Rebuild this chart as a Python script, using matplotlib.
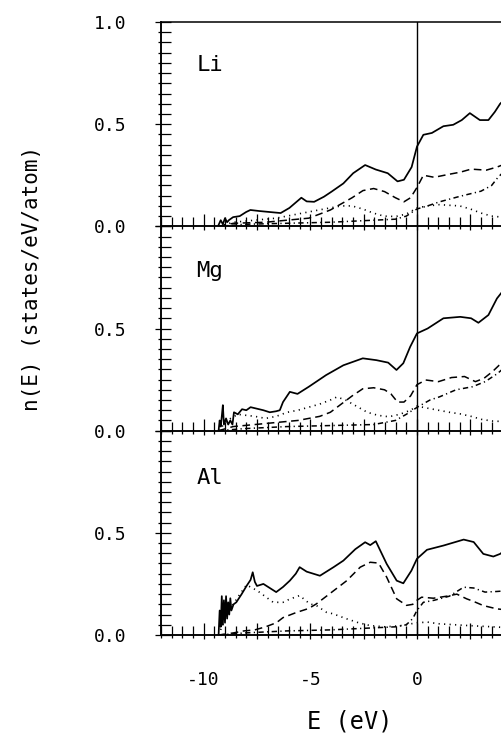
import matplotlib
matplotlib.use('Agg')
import matplotlib.pyplot as plt
from matplotlib.ticker import MultipleLocator, FuncFormatter

plt.rcParams['axes.unicode_minus'] = False
plt.rcParams['font.family'] = ['DejaVu Sans Mono', 'DejaVu Sans']

# ---------------- data (E in eV, n(E) in states/eV/atom) ----------------
panel_names = ["Li", "Mg", "Al"]
x_tick_labels = ["-10", "-5", "0"]

# Li
li_tot_e = [-9.33,-9.2,-9.1,-9.0,-8.9,-8.82,-8.62,-8.31,-8.01,-7.81,-7.4,-6.9,-6.39,-5.98,-5.42,-5.17,-4.82,-4.36,-4.0,-3.45,-2.99,-2.43,-1.93,-1.37,-0.91,-0.61,-0.25,0.0,0.3,0.7,1.24,1.7,2.1,2.48,2.95,3.35,3.65,3.9,4.0]
li_tot = [0,0.03,0.01,0.04,0.02,0.03,0.045,0.05,0.07,0.08,0.075,0.07,0.065,0.09,0.14,0.122,0.12,0.145,0.17,0.21,0.26,0.30,0.278,0.26,0.22,0.228,0.29,0.39,0.448,0.457,0.49,0.497,0.52,0.554,0.52,0.52,0.56,0.6,0.61]
li_s_e = [-9.3,-8.6,-7.6,-6.6,-5.6,-4.6,-3.55,-3.05,-2.55,-2.05,-1.55,-1.0,-0.5,0.0,0.5,1.05,2.0,2.5,3.0,3.5,4.0]
li_s = [0,0.02,0.03,0.04,0.06,0.08,0.1,0.1,0.085,0.065,0.05,0.048,0.06,0.09,0.1,0.106,0.1,0.085,0.065,0.05,0.045]
li_p_e = [-9.3,-8.6,-7.1,-6.1,-5.07,-4.56,-4.06,-3.55,-3.04,-2.53,-2.03,-1.52,-1.01,-0.61,-0.3,0.0,0.3,0.81,1.52,2.03,2.54,3.25,3.75,4.0]
li_p = [0,0.015,0.02,0.03,0.04,0.06,0.08,0.11,0.14,0.175,0.185,0.17,0.14,0.12,0.14,0.19,0.25,0.24,0.255,0.265,0.28,0.275,0.29,0.3]
li_d_e = [-9.3,-8.1,-6.1,-4.06,-2.03,-1.01,-0.5,0.0,0.5,1.06,2.02,3.0,3.5,3.8,4.0]
li_d = [0,0.01,0.015,0.02,0.03,0.035,0.05,0.085,0.1,0.12,0.147,0.172,0.2,0.24,0.26]

# Mg
mg_tot_e = [-9.3,-9.25,-9.2,-9.15,-9.1,-9.05,-8.95,-8.85,-8.75,-8.65,-8.58,-8.4,-8.2,-8.0,-7.8,-7.6,-7.4,-7.2,-6.9,-6.6,-6.43,-6.28,-5.96,-5.6,-5.07,-4.26,-3.45,-2.54,-1.9,-1.35,-0.96,-0.64,-0.32,0.0,0.5,1.24,2.03,2.54,2.88,3.35,3.75,4.0]
mg_tot = [0,0.05,0.02,0.07,0.125,0.03,0.06,0.03,0.05,0.03,0.09,0.08,0.105,0.1,0.115,0.11,0.105,0.1,0.09,0.095,0.1,0.14,0.19,0.18,0.215,0.272,0.32,0.354,0.345,0.333,0.297,0.33,0.41,0.476,0.5,0.55,0.557,0.55,0.528,0.566,0.647,0.68]
mg_s_e = [-9.3,-8.9,-8.4,-7.6,-7.1,-6.6,-6.08,-5.58,-5.07,-4.56,-4.06,-3.75,-3.35,-2.84,-2.33,-1.83,-1.32,-0.81,-0.3,0.0,0.5,1.01,1.52,2.03,2.54,3.04,3.55,4.0]
mg_s = [0,0.05,0.08,0.07,0.06,0.07,0.09,0.1,0.115,0.13,0.15,0.165,0.15,0.12,0.09,0.075,0.068,0.08,0.1,0.12,0.11,0.1,0.09,0.082,0.07,0.055,0.047,0.045]
mg_p_e = [-9.3,-8.62,-7.6,-6.6,-5.58,-5.07,-4.56,-4.06,-3.55,-3.04,-2.54,-2.03,-1.52,-1.22,-0.91,-0.61,-0.3,0.0,0.41,1.01,1.62,2.23,2.74,3.14,3.55,3.85,4.0]
mg_p = [0,0.02,0.03,0.04,0.05,0.06,0.07,0.09,0.13,0.17,0.205,0.21,0.2,0.18,0.14,0.14,0.17,0.225,0.248,0.24,0.26,0.265,0.24,0.256,0.29,0.32,0.33]
mg_d_e = [-9.3,-8.1,-6.1,-4.06,-2.03,-1.01,-0.5,0.05,0.61,1.07,1.83,2.6,3.2,3.78,4.0]
mg_d = [0,0.01,0.02,0.025,0.03,0.05,0.08,0.117,0.15,0.166,0.2,0.215,0.24,0.28,0.3]

# Al
al_tot_e = [-9.3,-9.25,-9.2,-9.15,-9.1,-9.05,-9.0,-8.95,-8.9,-8.85,-8.8,-8.75,-8.7,-8.6,-8.47,-8.22,-7.99,-7.8,-7.7,-7.6,-7.5,-7.2,-6.9,-6.6,-6.28,-5.96,-5.68,-5.5,-5.17,-4.55,-3.91,-3.45,-2.89,-2.43,-2.19,-1.93,-1.42,-0.95,-0.64,-0.26,0.0,0.47,1.25,2.19,2.66,3.11,3.58,3.9,4.0]
al_tot = [0,0.12,0.04,0.19,0.05,0.17,0.06,0.19,0.08,0.16,0.1,0.18,0.12,0.15,0.16,0.2,0.24,0.27,0.307,0.26,0.24,0.25,0.23,0.21,0.235,0.266,0.3,0.332,0.31,0.29,0.332,0.364,0.42,0.454,0.44,0.459,0.348,0.266,0.253,0.315,0.373,0.417,0.438,0.467,0.455,0.397,0.384,0.397,0.405]
al_s_e = [-9.3,-9.0,-8.62,-8.3,-7.99,-7.5,-6.74,-6.28,-5.98,-5.5,-5.02,-4.71,-4.24,-3.94,-3.32,-2.74,-2.19,-1.5,-0.8,0.0,0.5,1.01,1.8,2.43,3.2,3.9,4.0]
al_s = [0,0.08,0.15,0.2,0.245,0.218,0.16,0.16,0.175,0.193,0.152,0.144,0.111,0.104,0.08,0.06,0.046,0.04,0.045,0.06,0.063,0.055,0.05,0.046,0.042,0.038,0.038]
al_p_e = [-9.3,-8.62,-8.11,-7.6,-7.1,-6.59,-6.28,-5.66,-5.07,-4.72,-3.99,-3.29,-2.66,-2.19,-1.8,-1.42,-0.95,-0.49,-0.2,0.0,0.22,0.77,1.4,1.87,2.33,2.64,3.11,3.74,4.0]
al_p = [0,0.01,0.02,0.025,0.04,0.06,0.085,0.11,0.13,0.152,0.21,0.266,0.332,0.356,0.352,0.283,0.177,0.145,0.15,0.17,0.185,0.18,0.19,0.2,0.177,0.165,0.144,0.128,0.125]
al_d_e = [-9.3,-8.1,-6.1,-4.06,-2.03,-1.01,-0.5,-0.2,0.0,0.3,0.81,1.52,2.19,2.66,3.19,3.74,4.0]
al_d = [0,0.01,0.02,0.025,0.035,0.04,0.05,0.08,0.12,0.16,0.17,0.19,0.234,0.23,0.21,0.213,0.215]

panels = [
    (li_tot_e, li_tot, li_s_e, li_s, li_p_e, li_p, li_d_e, li_d),
    (mg_tot_e, mg_tot, mg_s_e, mg_s, mg_p_e, mg_p, mg_d_e, mg_d),
    (al_tot_e, al_tot, al_s_e, al_s, al_p_e, al_p, al_d_e, al_d),
]

# ---------------- layout ----------------
W, H = 501, 734
fig = plt.figure(figsize=(W / 100, H / 100), dpi=100)
left_px, right_px = 161, 501
top_px, bot_px = 22, 635
ph = (bot_px - top_px) / 3.0

def xfmt(v, pos):
    if abs(v / 5 - round(v / 5)) < 1e-6:
        return "%d" % round(v)
    return ""

axes = []
for i in range(3):
    y0 = 1 - (top_px + (i + 1) * ph) / H
    ax = fig.add_axes([left_px / W, y0, (right_px - left_px) / W, ph / H])
    ax.patch.set_alpha(0)
    axes.append(ax)

label_y = [0.79, 0.78, 0.77]
for i, ax in enumerate(axes):
    te, t, se, s, pe, p, de, d = panels[i]
    ax.axvline(0, color='black', lw=1.0, zorder=1)
    ax.plot(te, t, color='black', lw=1.25, solid_joinstyle='round')
    ax.plot(pe, p, color='black', lw=1.1, dashes=(5, 3))
    ax.plot(de, d, color='black', lw=1.1, dashes=(3.5, 2.2, 0.8, 2.2))
    ax.plot(se, s, color='black', lw=1.2, dashes=(0.7, 2.6))
    ax.set_xlim(-12, 3.94)
    ax.set_ylim(0, 1)
    ax.spines['right'].set_visible(False)
    for sp in ('left', 'bottom', 'top'):
        ax.spines[sp].set_linewidth(1.1)
    if i > 0:
        ax.spines['top'].set_visible(False)

    ax.xaxis.set_major_locator(MultipleLocator(2.5))
    ax.xaxis.set_minor_locator(MultipleLocator(0.5))
    ax.yaxis.set_major_locator(MultipleLocator(0.5))
    ax.yaxis.set_minor_locator(MultipleLocator(0.05))
    ax.tick_params(axis='x', which='major', direction='in', length=8.6, width=0.9,
                   top=False, pad=26, labelsize=13)
    ax.tick_params(axis='x', which='minor', direction='in', length=6.3, width=0.9, top=False)
    ax.tick_params(axis='y', which='major', direction='in', length=7.5, width=0.9,
                   right=False, pad=25, labelsize=13)
    ax.tick_params(axis='y', which='minor', direction='in', length=7.5, width=0.9, right=False)
    ax.xaxis.set_major_formatter(FuncFormatter(xfmt))
    if i < 2:
        ax.tick_params(axis='x', which='both', labelbottom=False)
    if i == 0:
        ax.set_yticks([0.0, 0.5, 1.0])
    else:
        ax.set_yticks([0.0, 0.5])
    ax.yaxis.set_major_formatter(FuncFormatter(lambda v, pos: "%.1f" % v))

    # short outward parts of the crossing ticks
    sx = ax.secondary_xaxis('bottom')
    sx.xaxis.set_major_locator(MultipleLocator(2.5))
    sx.xaxis.set_minor_locator(MultipleLocator(0.5))
    sx.tick_params(axis='x', which='major', direction='out', length=3.0, width=0.9, labelbottom=False)
    sx.tick_params(axis='x', which='minor', direction='out', length=2.2, width=0.9, labelbottom=False)
    sx.spines['bottom'].set_linewidth(1.1)
    sy = ax.secondary_yaxis('left')
    sy.yaxis.set_major_locator(MultipleLocator(0.5))
    sy.yaxis.set_minor_locator(MultipleLocator(0.05))
    sy.tick_params(axis='y', which='major', direction='out', length=4.5, width=0.9, labelleft=False)
    sy.tick_params(axis='y', which='minor', direction='out', length=2.5, width=0.9, labelleft=False)
    sy.spines['left'].set_linewidth(1.1)

    ax.text(-10.35, label_y[i], panel_names[i], fontsize=16, ha='left', va='center')

fig.text(32 / W, 1 - 278 / H, "n(E) (states/eV/atom)", rotation=90,
         ha='center', va='center', fontsize=15)
fig.text(350 / W, 1 - 721 / H, "E (eV)", ha='center', va='center', fontsize=17)

fig.savefig("out.png", dpi=100)
